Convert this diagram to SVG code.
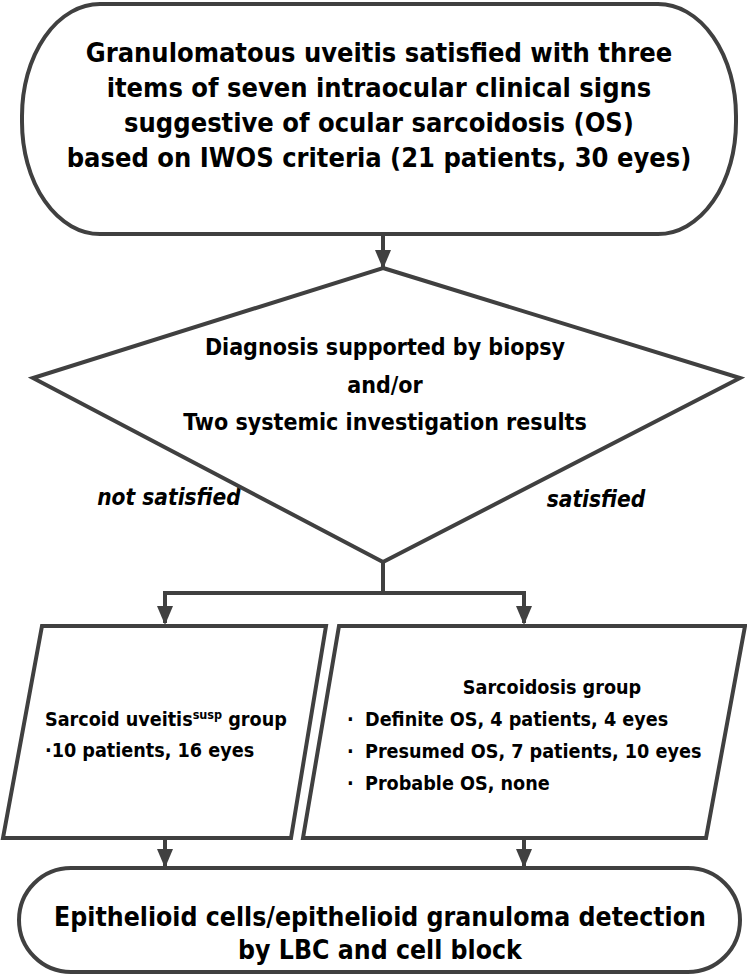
<svg xmlns="http://www.w3.org/2000/svg" width="747" height="978" viewBox="0 0 747 978">
<defs>
<style>
.shape{fill:#fff;stroke:#404040;stroke-width:4;stroke-linejoin:miter}
.line{fill:none;stroke:#404040;stroke-width:4}
.t{font-family:"DejaVu Sans Condensed","DejaVu Sans",sans-serif;font-weight:bold;fill:#000}
.big{font-size:27px}
.bot{font-size:26.4px}
.mid{font-size:23px}
.sm{font-size:19.6px}
.it{font-style:italic;font-size:22.5px}
</style>
<marker id="arr" markerWidth="19" markerHeight="16" refX="17" refY="8" orient="auto" markerUnits="userSpaceOnUse" viewBox="0 0 19 16">
<path d="M0,0 L19,8 L0,16 Z" fill="#404040"/>
</marker>
</defs>
<g id="connectors">
<line class="line" x1="383" y1="234" x2="383" y2="267" marker-end="url(#arr)"/>
<polyline class="line" points="383,562 383,593"/>
<polyline class="line" points="163,593 526,593"/>
<line class="line" x1="165" y1="593" x2="165" y2="623" marker-end="url(#arr)"/>
<line class="line" x1="524" y1="593" x2="524" y2="623" marker-end="url(#arr)"/>
<line class="line" x1="165" y1="838" x2="165" y2="866" marker-end="url(#arr)"/>
<line class="line" x1="524" y1="838" x2="524" y2="866" marker-end="url(#arr)"/>
<text class="t it" x="169" y="505" text-anchor="middle">not satisfied</text>
<text class="t it" x="596" y="507" text-anchor="middle">satisfied</text>
</g>
<g id="start">
<rect class="shape" x="22" y="4" width="714" height="230" rx="78" ry="112"/>
<text class="t big" text-anchor="middle"><tspan x="379" y="62">Granulomatous uveitis satisfied with three</tspan><tspan x="379" y="97">items of seven intraocular clinical signs</tspan><tspan x="379" y="132">suggestive of ocular sarcoidosis (OS)</tspan><tspan x="379" y="167">based on IWOS criteria (21 patients, 30 eyes)</tspan></text>
</g>
<g id="decision">
<polygon class="shape" points="383,268 740,378 383,562 33,378"/>
<text class="t mid" text-anchor="middle"><tspan x="385" y="355">Diagnosis supported by biopsy</tspan><tspan x="385" y="393">and/or</tspan><tspan x="385" y="430">Two systemic investigation results</tspan></text>
</g>
<g id="suspect">
<polygon class="shape" points="42,626 326,626 291,838 3,838"/>
<text class="t sm"><tspan x="45" y="726">Sarcoid uveitis<tspan font-size="12.5" dy="-7">susp</tspan><tspan dy="7"> group</tspan></tspan><tspan x="45" y="757">·10 patients, 16 eyes</tspan></text>
</g>
<g id="sarcoidosis">
<polygon class="shape" points="339,626 745,626 706,838 303,838"/>
<text class="t sm"><tspan x="552" y="694" text-anchor="middle">Sarcoidosis group</tspan><tspan x="347" y="726">·</tspan><tspan x="365" y="726">Definite OS, 4 patients, 4 eyes</tspan><tspan x="347" y="758">·</tspan><tspan x="365" y="758">Presumed OS, 7 patients, 10 eyes</tspan><tspan x="347" y="790">·</tspan><tspan x="365" y="790">Probable OS, none</tspan></text>
</g>
<g id="result">
<rect class="shape" x="19" y="868" width="721" height="104" rx="52" ry="52"/>
<text class="t bot" text-anchor="middle"><tspan x="380" y="926">Epithelioid cells/epithelioid granuloma detection</tspan><tspan x="380" y="959">by LBC and cell block</tspan></text>
</g>
</svg>
